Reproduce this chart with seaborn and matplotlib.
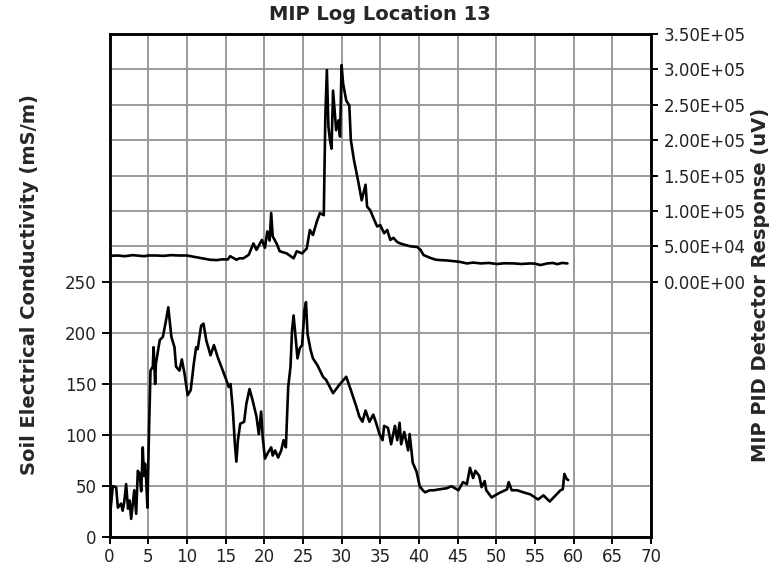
import matplotlib
matplotlib.use("Agg")
import matplotlib.pyplot as plt
import matplotlib.ticker as mticker
import seaborn as sns
import pandas as pd

# ---- data ----
title = "MIP Log Location 13"
left_label = "Soil Electrical Conductivity (mS/m)"
right_label = "MIP PID Detector Response (uV)"

ec_depth = [0.05, 0.15, 0.43, 0.86, 1.08, 1.5, 1.7, 1.9, 2.15, 2.4, 2.6, 2.8, 3.2, 3.45, 3.66,
            3.9, 4.1, 4.3, 4.45, 4.6, 4.75, 4.9, 5.1, 5.3, 5.6, 5.7, 5.9, 6.0, 6.5, 6.9,
            7.3, 7.6, 8.0, 8.4, 8.6, 9.05, 9.35, 9.7, 10.1, 10.5, 10.9, 11.2, 11.4, 11.85, 12.15,
            12.5, 13.06, 13.5, 14.0, 14.65, 15.1, 15.4, 15.65, 15.95, 16.2, 16.4, 16.6, 16.9, 17.4, 17.7,
            18.1, 18.5, 19.0, 19.3, 19.6, 19.8, 20.1, 20.5, 20.9, 21.1, 21.4, 21.8, 22.2, 22.5, 22.8,
            23.1, 23.4, 23.6, 23.8, 24.05, 24.3, 24.6, 24.9, 25.2, 25.4, 25.6, 26.0, 26.3, 26.9, 27.6,
            28.0, 28.9, 29.7, 30.6, 31.2, 31.9, 32.3, 32.7, 33.1, 33.6, 34.1, 34.5, 34.9, 35.3, 35.5,
            36.0, 36.4, 36.9, 37.2, 37.5, 37.7, 38.1, 38.6, 38.8, 39.2, 39.7, 40.1, 40.5, 40.8, 41.4,
            41.9, 42.7, 43.6, 44.2, 45.1, 45.7, 46.2, 46.6, 47.0, 47.3, 47.8, 48.1, 48.5, 48.7, 49.4,
            50.3, 51.4, 51.6, 52.0, 52.7, 53.5, 54.4, 55.4, 56.1, 56.9, 57.8, 58.3, 58.6, 58.8, 59.1,
            59.3]
ec_value = [0, 28, 50, 49, 29, 33, 26, 34, 52, 28, 36, 18, 46, 23, 65,
            62, 45, 88, 60, 72, 55, 29, 101, 163, 167, 186, 150, 170, 193, 196,
            212, 225, 196, 186, 167, 163, 174, 160, 139, 144, 170, 186, 184, 207, 209,
            193, 178, 188, 176, 163, 154, 147, 150, 124, 92, 74, 95, 111, 113, 131,
            145, 134, 118, 101, 123, 98, 77, 83, 88, 80, 85, 78, 85, 95, 88,
            147, 167, 203, 217, 196, 175, 185, 188, 222, 230, 199, 183, 175, 168, 157,
            154, 141, 149, 157, 144, 128, 118, 113, 124, 113, 120, 111, 101, 95, 109,
            107, 91, 109, 95, 112, 91, 103, 85, 101, 73, 64, 50, 46, 44, 46,
            46, 47, 48, 50, 46, 54, 52, 68, 58, 65, 60, 49, 55, 46, 39,
            43, 47, 54, 46, 46, 44, 42, 37, 41, 35, 42, 46, 47, 62, 57,
            56]

pid_depth = [0.1, 1.0, 2.0, 3.0, 4.5, 5.0, 6.0, 7.0, 8.0, 9.0, 10.0, 11.0, 12.0, 13.0, 13.9,
             14.5, 15.3, 15.6, 16.1, 16.4, 16.8, 17.3, 18.0, 18.6, 19.0, 19.7, 20.1, 20.4, 20.7, 20.9,
             21.1, 21.6, 22.0, 22.9, 23.8, 24.2, 24.9, 25.5, 25.9, 26.3, 26.8, 27.2, 27.7, 27.9, 28.1,
             28.3, 28.5, 28.7, 28.9, 29.3, 29.6, 29.8, 30.0, 30.2, 30.6, 31.0, 31.2, 31.6, 32.2, 32.6,
             33.1, 33.3, 33.7, 34.2, 34.6, 35.0, 35.5, 35.9, 36.3, 36.7, 37.2, 37.6, 38.2, 38.9, 39.8,
             40.2, 40.6, 41.5, 42.2, 42.8, 43.6, 44.5, 45.3, 46.2, 47.0, 48.0, 49.0, 50.1, 51.0, 52.3,
             53.2, 54.4, 55.0, 55.7, 56.6, 57.3, 57.9, 58.5, 59.2]
pid_value = [36500, 37000, 36000, 37500, 36000, 37000, 37000, 36500, 37500, 37000, 37000, 35000, 33000, 31000, 30500,
             31500, 31500, 36000, 33000, 31000, 33000, 33000, 38000, 54000, 45000, 59000, 48000, 71000, 58000, 97000,
             64000, 54000, 43000, 40000, 33000, 43000, 40000, 47000, 73000, 66000, 85000, 97000, 94000, 233000, 299000,
             219000, 200000, 188000, 270000, 214000, 228000, 205000, 306000, 280000, 256000, 249000, 200000, 172000, 139000, 115000,
             137000, 106000, 101000, 88000, 78000, 80000, 68500, 73000, 59000, 62000, 56000, 54000, 52000, 50000, 49000,
             45000, 37600, 33500, 31000, 30500, 30000, 29000, 28000, 25800, 27000, 25800, 26500, 25000, 26000, 25800,
             25000, 25800, 25500, 23500, 25800, 26500, 24800, 26500, 25800]

x_ticks = list(range(0, 71, 5))
left_ticks = [0, 50, 100, 150, 200, 250]
right_ticks = [0, 50000, 100000, 150000, 200000, 250000, 300000, 350000]

ec_df = pd.DataFrame({"depth": ec_depth, "ec": ec_value})
pid_df = pd.DataFrame({"depth": pid_depth, "pid": pid_value})

# ---- figure ----
sns.set_theme(style="white")
plt.rcParams["font.family"] = ["DejaVu Sans"]

W, H = 778, 575
fig = plt.figure(figsize=(W / 100, H / 100), dpi=100)
x0, x1, ytop, ybot = 109.5, 651, 34, 537.3
ax = fig.add_axes([x0 / W, (H - ybot) / H, (x1 - x0) / W, (ybot - ytop) / H])
ax2 = ax.twinx()

grid_kw = dict(color="#9a9a9a", linewidth=1.4)

sns.lineplot(data=ec_df, x="depth", y="ec", ax=ax, color="black", linewidth=1.9,
             estimator=None, sort=False, zorder=3)
sns.lineplot(data=pid_df, x="depth", y="pid", ax=ax2, color="black", linewidth=1.9,
             estimator=None, sort=False, zorder=3)

ax.set_xlim(0, 70)
ax.set_ylim(0, 492.3)
ax2.set_ylim(-361200, 350000)

ax.set_xticks(x_ticks)
ax.set_yticks(left_ticks)
ax2.set_yticks(right_ticks)
ax2.yaxis.set_major_formatter(mticker.FuncFormatter(lambda v, p: f"{v:.2E}"))

ax.grid(True, **grid_kw)
ax.set_axisbelow(True)
ax2.grid(True, axis="y", **grid_kw)
ax2.set_axisbelow(True)
ax2.grid(False, axis="x")

for a in (ax, ax2):
    for s in a.spines.values():
        s.set_color("black")
        s.set_linewidth(1.8)
        s.set_visible(True)

ax.tick_params(axis="x", direction="out", length=5, width=1.4, color="black",
               labelsize=12, pad=3, labelcolor="#222222", bottom=True)
ax.tick_params(axis="y", direction="out", length=5.5, width=1.4, color="black",
               labelsize=12, pad=4, labelcolor="#222222", left=True)
ax2.tick_params(axis="y", direction="out", length=5, width=1.4, color="black",
                labelsize=12, pad=4, labelcolor="#222222", right=True)

ax.set_xlabel("")
ax.set_ylabel("")
ax2.set_ylabel("")

fig.text(380 / W, 1 - 15 / H, title, ha="center", va="center", fontsize=14, fontweight="bold")
fig.text(30 / W, 1 - 285 / H, left_label, ha="center", va="center", rotation=90,
         fontsize=14, fontweight="bold")
fig.text(760 / W, 1 - 285 / H, right_label, ha="center", va="center", rotation=90,
         fontsize=14, fontweight="bold")

fig.savefig("out.png", dpi=100)
